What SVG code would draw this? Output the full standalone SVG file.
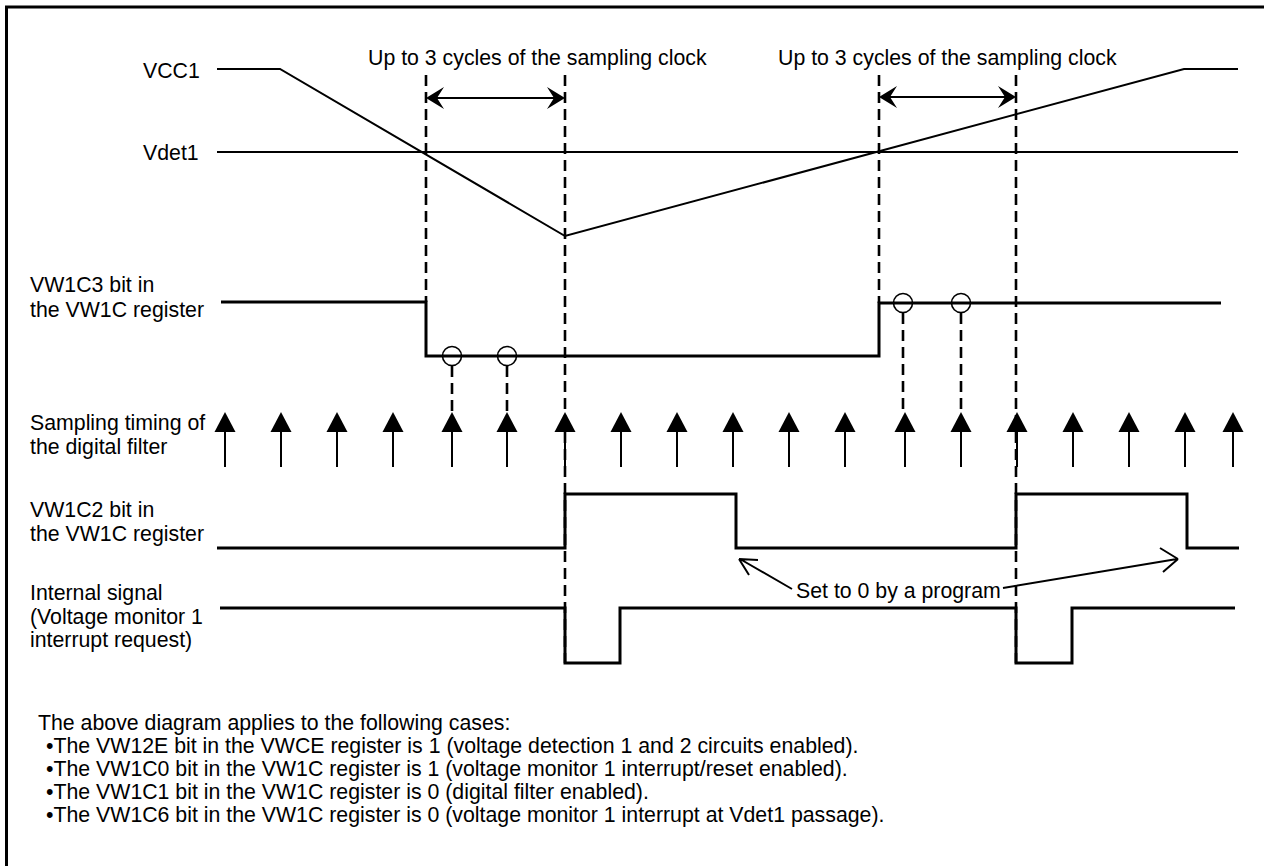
<svg xmlns="http://www.w3.org/2000/svg" width="1264" height="866" viewBox="0 0 1264 866">
<defs>
<style>
text{font-family:"Liberation Sans",Arial,sans-serif;font-size:21.3px;fill:#000}
.sig{fill:none;stroke:#000;stroke-width:3;stroke-linejoin:miter}
.thin{fill:none;stroke:#000;stroke-width:2}
.dash{fill:none;stroke:#000;stroke-width:2.6;stroke-dasharray:11,6}
.head{fill:#000;stroke:none}
</style>
<polygon id="samp" class="head" points="0,0 -10.5,20 10.5,20"/>
</defs>
<rect x="0" y="0" width="1264" height="866" fill="#fff"/>
<rect x="6.5" y="7" width="1270" height="880" fill="none" stroke="#000" stroke-width="3"/>

<g id="vcc1">
<text x="143" y="78">VCC1</text>
<polyline class="thin" points="217,69 280,69 565,236 1184,69 1238,69"/>
</g>
<g id="vdet1">
<text x="143" y="160">Vdet1</text>
<line class="thin" x1="217" y1="152" x2="1238" y2="152"/>
</g>
<g id="vw1c3">
<text x="30" y="292">VW1C3 bit in</text>
<text x="30" y="317">the VW1C register</text>
<polyline class="sig" points="221,302 426,302 426,356 879,356 879,303 1221,303"/>
<circle cx="452" cy="356" r="9.5" fill="none" stroke="#000" stroke-width="1.6"/>
<circle cx="507" cy="356" r="9.5" fill="none" stroke="#000" stroke-width="1.6"/>
<circle cx="903" cy="303" r="9.5" fill="none" stroke="#000" stroke-width="1.6"/>
<circle cx="961" cy="303" r="9.5" fill="none" stroke="#000" stroke-width="1.6"/>
</g>
<g id="sampling">
<text x="30" y="430">Sampling timing of</text>
<text x="30" y="454">the digital filter</text>
<g class="thin">
<path d="M225,430V467M281,430V467M337,430V467M393,430V467M452,430V467M507,430V467M565,430V467M621,430V467M677,430V467M733,430V467M789,430V467M845,430V467M905,430V467M961,430V467M1017,430V467M1073,430V467M1129,430V467M1185,430V467M1233,430V467"/>
</g>
<use href="#samp" x="225" y="412"/><use href="#samp" x="281" y="412"/><use href="#samp" x="337" y="412"/><use href="#samp" x="393" y="412"/><use href="#samp" x="452" y="412"/><use href="#samp" x="507" y="412"/><use href="#samp" x="565" y="412"/><use href="#samp" x="621" y="412"/><use href="#samp" x="677" y="412"/><use href="#samp" x="733" y="412"/><use href="#samp" x="789" y="412"/><use href="#samp" x="845" y="412"/><use href="#samp" x="905" y="412"/><use href="#samp" x="961" y="412"/><use href="#samp" x="1017" y="412"/><use href="#samp" x="1073" y="412"/><use href="#samp" x="1129" y="412"/><use href="#samp" x="1185" y="412"/><use href="#samp" x="1233" y="412"/>
</g>
<g id="vw1c2">
<text x="30" y="517">VW1C2 bit in</text>
<text x="30" y="541">the VW1C register</text>
<polyline class="sig" points="217,548 565,548 565,494 736,494 736,548 1016,548 1016,494 1187,494 1187,548 1239,548"/>
</g>
<g id="internal">
<text x="30" y="600">Internal signal</text>
<text x="30" y="624">(Voltage monitor 1</text>
<text x="30" y="647">interrupt request)</text>
<polyline class="sig" points="220,608 565,608 565,663 620,663 620,608 1016,608 1016,663 1072,663 1072,608 1235,608"/>
</g>

<g id="connectors">
<line class="dash" x1="426" y1="75" x2="426" y2="302"/>
<line class="dash" x1="565" y1="75" x2="565" y2="663"/>
<line class="dash" x1="879" y1="75" x2="879" y2="303"/>
<line class="dash" x1="1016" y1="75" x2="1016" y2="663"/>
<line class="dash" x1="452" y1="366" x2="452" y2="413"/>
<line class="dash" x1="507" y1="366" x2="507" y2="413"/>
<line class="dash" x1="903" y1="313" x2="903" y2="413"/>
<line class="dash" x1="961" y1="313" x2="961" y2="413"/>
<line class="thin" x1="436" y1="98" x2="555" y2="98"/>
<path class="head" d="M426,98 L444,87 L437,98 L444,109 Z M565,98 L547,87 L554,98 L547,109 Z"/>
<line class="thin" x1="889" y1="97" x2="1006" y2="97"/>
<path class="head" d="M879,97 L897,86 L890,97 L897,108 Z M1016,97 L998,86 L1005,97 L998,108 Z"/>
<path class="thin" d="M792,589 L740,559 M739,559 L749,575 M739,559 L758,560" stroke-width="1.6"/>
<path class="thin" d="M1003,588 L1177,559 M1178,559 L1160,548 M1178,559 L1163,572" stroke-width="1.6"/>
</g>

<g id="labels">
<text x="368" y="65">Up to 3 cycles of the sampling clock</text>
<text x="778" y="65">Up to 3 cycles of the sampling clock</text>
<text x="796" y="598">Set to 0 by a program</text>
</g>

<g id="notes">
<text x="38" y="730">The above diagram applies to the following cases:</text>
<text x="46" y="753">•The VW12E bit in the VWCE register is 1 (voltage detection 1 and 2 circuits enabled).</text>
<text x="46" y="776">•The VW1C0 bit in the VW1C register is 1 (voltage monitor 1 interrupt/reset enabled).</text>
<text x="46" y="799">•The VW1C1 bit in the VW1C register is 0 (digital filter enabled).</text>
<text x="46" y="822">•The VW1C6 bit in the VW1C register is 0 (voltage monitor 1 interrupt at Vdet1 passage).</text>
</g>
</svg>
